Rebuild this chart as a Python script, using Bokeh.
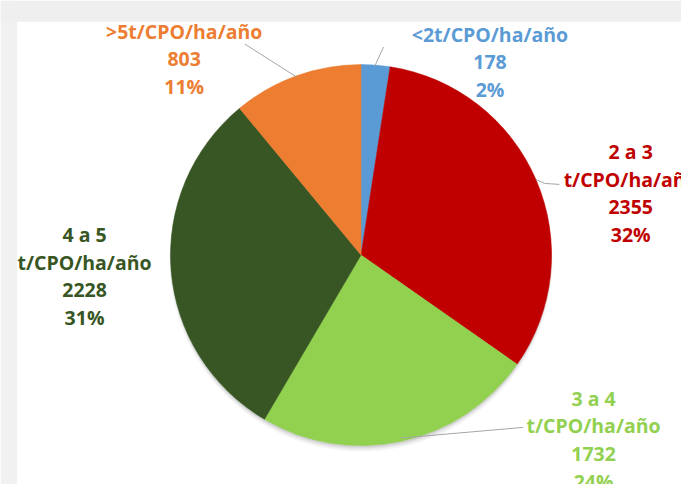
import math
from bokeh.plotting import figure
from bokeh.models import Range1d, ColumnDataSource
from bokeh.core.properties import value
from bokeh.embed import file_html
from bokeh.resources import INLINE

# ---- data ----
categories = ["<2t/CPO/ha/año", "2 a 3\nt/CPO/ha/año", "3 a 4\nt/CPO/ha/año",
              "4 a 5\nt/CPO/ha/año", ">5t/CPO/ha/año"]
values = [178, 2355, 1732, 2228, 803]
colors = ["#5B9BD5", "#C00000", "#92D050", "#375623", "#ED7D31"]

# ---- layout (reference pixel coordinates, 697 x 500 canvas) ----
W, H = 681, 484
RW, RH = 697, 500
CX, CY, R = 369, 263, 195
label_pos = [(501, 35), (645, 156), (607, 411), (86, 242), (188, 32)]
line_gap = 28.5
leaders = [
    [(392, 48), (383, 68)],
    [(572, 190), (557, 189), (548, 185)],
    [(535, 441), (410, 452)],
    None,
    [(250, 45), (303, 79)],
]

def Y(py):
    return RH - py

p = figure(width=W, height=H, output_backend="svg", toolbar_location=None,
           x_range=Range1d(0, RW), y_range=Range1d(0, RH),
           min_border=0, background_fill_color="white", border_fill_color="white")
p.axis.visible = False
p.grid.visible = False
p.outline_line_color = None

# grey frame strips around white panel
p.quad(left=[0], right=[17], bottom=[Y(RH)], top=[Y(0)], fill_color="#f1f1f1", line_color=None)
p.quad(left=[0], right=[RW], bottom=[Y(22)], top=[Y(0)], fill_color="#efefef", line_color=None)

# soft shadow
for off, rr, a in [(5, R + 1, 0.06), (4, R, 0.08), (2, R, 0.12)]:
    p.circle(x=[CX], y=[Y(CY + off)], radius=rr, fill_color="#404040", fill_alpha=a, line_color=None)

total = sum(values)
cum = 0.0
starts, ends = [], []
for v in values:
    starts.append(math.pi / 2 - 2 * math.pi * cum / total)
    cum += v
    ends.append(math.pi / 2 - 2 * math.pi * cum / total)

src = ColumnDataSource(dict(start=starts, end=ends, color=colors))
p.wedge(x=CX, y=Y(CY), radius=R, start_angle="start", end_angle="end",
        direction="clock", fill_color="color", line_color="color", line_width=0.5, source=src)

# leader lines
for ld in leaders:
    if ld is None:
        continue
    p.line([pt[0] for pt in ld], [Y(pt[1]) for pt in ld], line_color="#A6A6A6", line_width=1)

# labels
for cat, v, col, (lx, ly) in zip(categories, values, colors, label_pos):
    pct = f"{round(100 * v / total)}%"
    lines = cat.split("\n") + [str(v), pct]
    xs = [lx] * len(lines)
    ys = [Y(ly + i * line_gap) for i in range(len(lines))]
    p.text(x=xs, y=ys, text=lines, text_color=col, text_font=value("Open Sans"),
           text_font_style="bold", text_font_size="19.5px",
           text_align="center", text_baseline="middle")

open("out.html", "w").write(file_html(p, INLINE))
